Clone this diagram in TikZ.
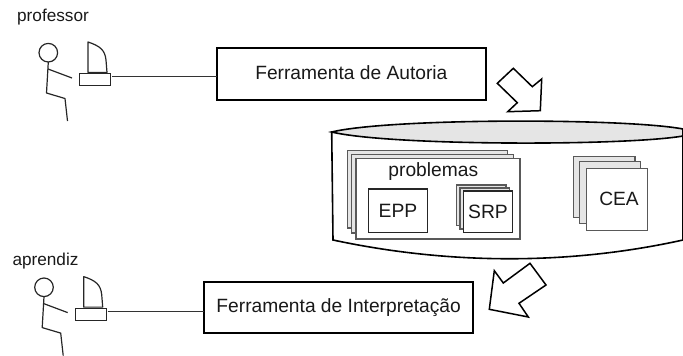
\documentclass[tikz,border=0pt]{standalone}
\usepackage{fontspec}
\setmainfont{Liberation Sans}
\tikzset{
  base/.style={draw=#1,rectangle,inner sep=0pt,outer sep=0pt,font=\fontsize{19.3}{22}\selectfont,text=black!90},
  toolbox/.style={base=black,line width=1.8pt,fill=white,font=\fontsize{19.2}{22}\selectfont},
  backsheet/.style={base=black!65,line width=1.2pt,fill=black!10},
  frontsheet/.style={base=black!65,line width=1.2pt,fill=white},
  innerbox/.style={base=black!85,line width=1.2pt,fill=white},
  caption/.style={inner sep=0pt,outer sep=0pt,text=black!90},
  stick/.style={line width=1.2pt,draw=black!85,line join=round},
  wire/.style={line width=1.1pt,draw=black!80},
  bigarrow/.style={line width=1.5pt,draw=black,fill=white,line join=miter},
  drum/.style={line width=1.6pt,draw=black}
}
\newcommand{\rectnode}[7]{\node[#1,minimum width={(#5-#3)*1pt},minimum height={(#6-#4)*1pt}] (#2) at ({(#3+#5)/2},{(#4+#6)/2}) {#7};}
\newcommand{\stickperson}[3]{%
  \begin{scope}[shift={(#1,#2)}]
    \node[stick,circle,minimum size=18.6pt,inner sep=0pt,outer sep=0pt] (#3head) at (48.3,52.7) {};
    \draw[stick] (#3head.south) -- (46.5,93) -- (65,98.5) -- (67.5,121);
    \coordinate (#3hand) at (72,78);
    \draw[stick] (48,69) -- (#3hand);
    \node[base=black!85,line width=1.2pt,minimum width=31pt,minimum height=12pt] (#3kbd) at (95,79.5) {};
    \draw[stick] (88,72.5) -- (88,42) .. controls (100,46) and (105,50) .. (106,60) -- (107,72.5) -- cycle;
    \coordinate (#3port) at (112,76.5);
  \end{scope}}
\begin{document}
\begin{tikzpicture}[x=1pt,y=-1pt]
\useasboundingbox (0,0) rectangle (683,356);

% database drum
\draw[drum,fill=white] (331.7,132) -- (333,240) .. controls (450,265) and (570,265) .. (683,240) -- (683,132) -- cycle;
\draw[drum,fill=black!10] (331.7,132) .. controls (390,118) and (625,118) .. (683,129) -- (683,136) .. controls (625,146) and (390,146) .. (331.7,132) -- cycle;

% problem stack
\rectnode{backsheet}{pa}{347.7}{150.7}{507.3}{228}{}
\rectnode{backsheet}{pb}{351.7}{154.3}{513.7}{233}{}
\rectnode{frontsheet}{pc}{356}{158.7}{520}{239}{}
\node[caption,font=\fontsize{19.2}{22}\selectfont] (problemas) at (433.3,172) {problemas};
\rectnode{innerbox}{epp}{368.3}{189}{427.7}{232.3}{EPP}
\rectnode{backsheet}{sa}{456.7}{185}{506}{225.7}{}
\rectnode{backsheet}{sb}{460}{188}{509.3}{229}{}
\rectnode{innerbox}{srp}{463.3}{191}{512.7}{232.3}{SRP}

% CEA stack
\rectnode{backsheet}{ca}{573.3}{156.3}{635}{217.3}{}
\rectnode{backsheet}{cb}{579.3}{161.7}{640.7}{223.3}{}
\rectnode{frontsheet}{cc}{586.3}{168.3}{647.7}{230.7}{}
\node[caption,font=\fontsize{19.2}{22}\selectfont] (cea) at (619,199.3) {CEA};

% tools
\rectnode{toolbox}{autoria}{217}{48}{485.7}{100}{\raisebox{2pt}{Ferramenta de Autoria}}
\rectnode{toolbox}{interp}{204}{282.3}{473.3}{332.7}{\raisebox{-1.5pt}{Ferramenta de Interpreta\c{c}\~ao}}

% people
\node[caption,font=\fontsize{17.2}{20}\selectfont] (professor) at (53,17) {professor};
\node[caption,font=\fontsize{17.2}{20}\selectfont] (aprendiz) at (45.5,261.5) {aprendiz};
\stickperson{0}{0}{p}
\stickperson{-4.3}{234.6}{a}
\draw[wire] (pport) -- (pport -| autoria.west);
\draw[wire] (aport) -- (aport -| interp.west);

% block arrows
\draw[bigarrow] (513.3,68.3) -- (532.3,86.7) -- (541.7,79) -- (540.3,110.7) -- (507.7,111.7) -- (517.3,102.7) -- (497.3,83.3) -- cycle;
\draw[bigarrow] (530,263.3) -- (546,285) -- (519,303.3) -- (528.3,317) -- (489.3,309.3) -- (494.3,270.7) -- (503.3,283) -- cycle;
\end{tikzpicture}
\end{document}
